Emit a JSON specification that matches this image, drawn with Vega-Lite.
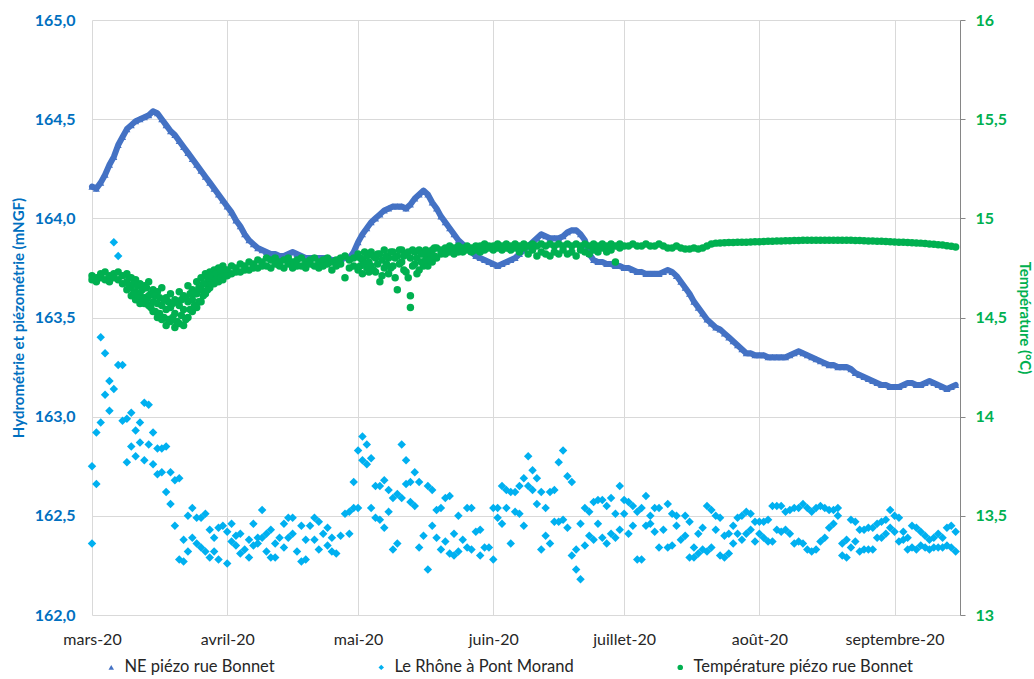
{
"$schema": "https://vega.github.io/schema/vega-lite/v6.json",
"width": 868,
"height": 595,
"autosize": "none",
"padding": {"left": 92, "top": 20, "right": 74, "bottom": 64},
"background": "white",
"config": {
  "font": "Lato",
  "view": {"stroke": null},
  "locale": {
    "number": {"decimal": ",", "thousands": " ", "grouping": [3], "currency": ["", " €"]},
    "time": {"dateTime": "%A %e %B %Y à %X", "date": "%d/%m/%Y", "time": "%H:%M:%S", "periods": ["AM", "PM"],
      "days": ["dimanche","lundi","mardi","mercredi","jeudi","vendredi","samedi"],
      "shortDays": ["dim.","lun.","mar.","mer.","jeu.","ven.","sam."],
      "months": ["janvier","février","mars","avril","mai","juin","juillet","août","septembre","octobre","novembre","décembre"],
      "shortMonths": ["janv.","févr.","mars","avr.","mai","juin","juil.","août","sept.","oct.","nov.","déc."]}
  }
},
"datasets": {
"piezo": [
{"d":"2020-03-01","v":164.16},{"d":"2020-03-02","v":164.15},{"d":"2020-03-03","v":164.18},{"d":"2020-03-04","v":164.22},{"d":"2020-03-05","v":164.27},{"d":"2020-03-06","v":164.31},{"d":"2020-03-07","v":164.37},{"d":"2020-03-08","v":164.41},{"d":"2020-03-09","v":164.45},{"d":"2020-03-10","v":164.47},
{"d":"2020-03-11","v":164.49},{"d":"2020-03-12","v":164.50},{"d":"2020-03-13","v":164.51},{"d":"2020-03-14","v":164.52},{"d":"2020-03-15","v":164.54},{"d":"2020-03-16","v":164.53},{"d":"2020-03-17","v":164.50},{"d":"2020-03-18","v":164.47},{"d":"2020-03-19","v":164.44},{"d":"2020-03-20","v":164.42},
{"d":"2020-03-21","v":164.39},{"d":"2020-03-22","v":164.36},{"d":"2020-03-23","v":164.33},{"d":"2020-03-24","v":164.30},{"d":"2020-03-25","v":164.27},{"d":"2020-03-26","v":164.24},{"d":"2020-03-27","v":164.21},{"d":"2020-03-28","v":164.18},{"d":"2020-03-29","v":164.15},{"d":"2020-03-30","v":164.12},{"d":"2020-03-31","v":164.09},
{"d":"2020-04-01","v":164.06},{"d":"2020-04-02","v":164.03},{"d":"2020-04-03","v":163.99},{"d":"2020-04-04","v":163.96},{"d":"2020-04-05","v":163.92},{"d":"2020-04-06","v":163.89},{"d":"2020-04-07","v":163.87},{"d":"2020-04-08","v":163.85},{"d":"2020-04-09","v":163.84},{"d":"2020-04-10","v":163.83},
{"d":"2020-04-11","v":163.82},{"d":"2020-04-12","v":163.82},{"d":"2020-04-13","v":163.81},{"d":"2020-04-14","v":163.81},{"d":"2020-04-15","v":163.82},{"d":"2020-04-16","v":163.83},{"d":"2020-04-17","v":163.82},{"d":"2020-04-18","v":163.81},{"d":"2020-04-19","v":163.80},{"d":"2020-04-20","v":163.80},
{"d":"2020-04-21","v":163.80},{"d":"2020-04-22","v":163.80},{"d":"2020-04-23","v":163.80},{"d":"2020-04-24","v":163.80},{"d":"2020-04-25","v":163.79},{"d":"2020-04-26","v":163.79},{"d":"2020-04-27","v":163.79},{"d":"2020-04-28","v":163.80},{"d":"2020-04-29","v":163.80},{"d":"2020-04-30","v":163.83},
{"d":"2020-05-01","v":163.88},{"d":"2020-05-02","v":163.92},{"d":"2020-05-03","v":163.95},{"d":"2020-05-04","v":163.98},{"d":"2020-05-05","v":164.00},{"d":"2020-05-06","v":164.02},{"d":"2020-05-07","v":164.04},{"d":"2020-05-08","v":164.05},{"d":"2020-05-09","v":164.06},{"d":"2020-05-10","v":164.06},
{"d":"2020-05-11","v":164.06},{"d":"2020-05-12","v":164.05},{"d":"2020-05-13","v":164.07},{"d":"2020-05-14","v":164.10},{"d":"2020-05-15","v":164.12},{"d":"2020-05-16","v":164.14},{"d":"2020-05-17","v":164.12},{"d":"2020-05-18","v":164.08},{"d":"2020-05-19","v":164.05},{"d":"2020-05-20","v":164.01},
{"d":"2020-05-21","v":163.98},{"d":"2020-05-22","v":163.95},{"d":"2020-05-23","v":163.92},{"d":"2020-05-24","v":163.89},{"d":"2020-05-25","v":163.87},{"d":"2020-05-26","v":163.85},{"d":"2020-05-27","v":163.83},{"d":"2020-05-28","v":163.81},{"d":"2020-05-29","v":163.80},{"d":"2020-05-30","v":163.79},{"d":"2020-05-31","v":163.78},
{"d":"2020-06-01","v":163.77},{"d":"2020-06-02","v":163.76},{"d":"2020-06-03","v":163.77},{"d":"2020-06-04","v":163.78},{"d":"2020-06-05","v":163.79},{"d":"2020-06-06","v":163.80},{"d":"2020-06-07","v":163.82},{"d":"2020-06-08","v":163.84},{"d":"2020-06-09","v":163.86},{"d":"2020-06-10","v":163.88},
{"d":"2020-06-11","v":163.90},{"d":"2020-06-12","v":163.92},{"d":"2020-06-13","v":163.91},{"d":"2020-06-14","v":163.90},{"d":"2020-06-15","v":163.90},{"d":"2020-06-16","v":163.90},{"d":"2020-06-17","v":163.91},{"d":"2020-06-18","v":163.93},{"d":"2020-06-19","v":163.94},{"d":"2020-06-20","v":163.94},
{"d":"2020-06-21","v":163.92},{"d":"2020-06-22","v":163.89},{"d":"2020-06-23","v":163.82},{"d":"2020-06-24","v":163.79},{"d":"2020-06-25","v":163.78},{"d":"2020-06-26","v":163.78},{"d":"2020-06-27","v":163.77},{"d":"2020-06-28","v":163.77},{"d":"2020-06-29","v":163.76},{"d":"2020-06-30","v":163.76},
{"d":"2020-07-01","v":163.75},{"d":"2020-07-02","v":163.75},{"d":"2020-07-03","v":163.74},{"d":"2020-07-04","v":163.73},{"d":"2020-07-05","v":163.73},{"d":"2020-07-06","v":163.72},{"d":"2020-07-07","v":163.72},{"d":"2020-07-08","v":163.72},{"d":"2020-07-09","v":163.72},{"d":"2020-07-10","v":163.73},
{"d":"2020-07-11","v":163.74},{"d":"2020-07-12","v":163.73},{"d":"2020-07-13","v":163.71},{"d":"2020-07-14","v":163.68},{"d":"2020-07-15","v":163.65},{"d":"2020-07-16","v":163.62},{"d":"2020-07-17","v":163.58},{"d":"2020-07-18","v":163.55},{"d":"2020-07-19","v":163.52},{"d":"2020-07-20","v":163.49},
{"d":"2020-07-21","v":163.47},{"d":"2020-07-22","v":163.45},{"d":"2020-07-23","v":163.44},{"d":"2020-07-24","v":163.42},{"d":"2020-07-25","v":163.40},{"d":"2020-07-26","v":163.38},{"d":"2020-07-27","v":163.36},{"d":"2020-07-28","v":163.34},{"d":"2020-07-29","v":163.32},{"d":"2020-07-30","v":163.32},{"d":"2020-07-31","v":163.31},
{"d":"2020-08-01","v":163.31},{"d":"2020-08-02","v":163.31},{"d":"2020-08-03","v":163.30},{"d":"2020-08-04","v":163.30},{"d":"2020-08-05","v":163.30},{"d":"2020-08-06","v":163.30},{"d":"2020-08-07","v":163.30},{"d":"2020-08-08","v":163.31},{"d":"2020-08-09","v":163.32},{"d":"2020-08-10","v":163.33},
{"d":"2020-08-11","v":163.32},{"d":"2020-08-12","v":163.31},{"d":"2020-08-13","v":163.30},{"d":"2020-08-14","v":163.29},{"d":"2020-08-15","v":163.28},{"d":"2020-08-16","v":163.27},{"d":"2020-08-17","v":163.26},{"d":"2020-08-18","v":163.26},{"d":"2020-08-19","v":163.25},{"d":"2020-08-20","v":163.25},
{"d":"2020-08-21","v":163.25},{"d":"2020-08-22","v":163.24},{"d":"2020-08-23","v":163.22},{"d":"2020-08-24","v":163.21},{"d":"2020-08-25","v":163.20},{"d":"2020-08-26","v":163.19},{"d":"2020-08-27","v":163.18},{"d":"2020-08-28","v":163.17},{"d":"2020-08-29","v":163.16},{"d":"2020-08-30","v":163.16},{"d":"2020-08-31","v":163.15},
{"d":"2020-09-01","v":163.15},{"d":"2020-09-02","v":163.15},{"d":"2020-09-03","v":163.16},{"d":"2020-09-04","v":163.17},{"d":"2020-09-05","v":163.17},{"d":"2020-09-06","v":163.16},{"d":"2020-09-07","v":163.16},{"d":"2020-09-08","v":163.17},{"d":"2020-09-09","v":163.18},{"d":"2020-09-10","v":163.17},
{"d":"2020-09-11","v":163.16},{"d":"2020-09-12","v":163.15},{"d":"2020-09-13","v":163.14},{"d":"2020-09-14","v":163.15},{"d":"2020-09-15","v":163.16}
],
"rhone": [
{"d":"2020-03-01","v":162.75},{"d":"2020-03-01","v":162.36},{"d":"2020-03-02","v":162.66},{"d":"2020-03-02","v":162.92},{"d":"2020-03-03","v":162.97},{"d":"2020-03-03","v":163.40},
{"d":"2020-03-04","v":163.11},{"d":"2020-03-04","v":163.32},{"d":"2020-03-05","v":163.03},{"d":"2020-03-05","v":163.18},{"d":"2020-03-06","v":163.14},{"d":"2020-03-06","v":163.88},
{"d":"2020-03-07","v":163.26},{"d":"2020-03-07","v":163.81},{"d":"2020-03-08","v":163.26},{"d":"2020-03-08","v":162.98},{"d":"2020-03-09","v":162.77},{"d":"2020-03-09","v":162.99},
{"d":"2020-03-10","v":162.85},{"d":"2020-03-10","v":163.02},{"d":"2020-03-11","v":162.80},{"d":"2020-03-11","v":162.93},{"d":"2020-03-12","v":162.97},{"d":"2020-03-12","v":162.87},
{"d":"2020-03-13","v":162.78},{"d":"2020-03-13","v":163.07},{"d":"2020-03-14","v":162.86},{"d":"2020-03-14","v":163.06},{"d":"2020-03-15","v":162.92},{"d":"2020-03-15","v":162.76},
{"d":"2020-03-16","v":162.84},{"d":"2020-03-16","v":162.71},{"d":"2020-03-17","v":162.84},{"d":"2020-03-17","v":162.72},{"d":"2020-03-18","v":162.85},{"d":"2020-03-18","v":162.62},
{"d":"2020-03-19","v":162.72},{"d":"2020-03-19","v":162.56},{"d":"2020-03-20","v":162.45},{"d":"2020-03-20","v":162.68},{"d":"2020-03-21","v":162.69},{"d":"2020-03-21","v":162.28},
{"d":"2020-03-22","v":162.38},{"d":"2020-03-22","v":162.27},{"d":"2020-03-23","v":162.50},{"d":"2020-03-23","v":162.32},{"d":"2020-03-24","v":162.54},{"d":"2020-03-24","v":162.39},
{"d":"2020-03-25","v":162.36},{"d":"2020-03-25","v":162.49},{"d":"2020-03-26","v":162.34},{"d":"2020-03-26","v":162.49},{"d":"2020-03-27","v":162.51},{"d":"2020-03-27","v":162.32},
{"d":"2020-03-28","v":162.43},{"d":"2020-03-28","v":162.29},{"d":"2020-03-29","v":162.39},{"d":"2020-03-29","v":162.32},{"d":"2020-03-30","v":162.44},{"d":"2020-03-30","v":162.28},
{"d":"2020-03-31","v":162.45},
{"d":"2020-04-01","v":162.26},{"d":"2020-04-01","v":162.42},{"d":"2020-04-02","v":162.46},{"d":"2020-04-02","v":162.37},{"d":"2020-04-03","v":162.35},{"d":"2020-04-03","v":162.40},
{"d":"2020-04-04","v":162.41},{"d":"2020-04-04","v":162.31},{"d":"2020-04-05","v":162.33},{"d":"2020-04-06","v":162.29},{"d":"2020-04-06","v":162.38},
{"d":"2020-04-07","v":162.46},{"d":"2020-04-07","v":162.35},{"d":"2020-04-08","v":162.36},{"d":"2020-04-08","v":162.39},{"d":"2020-04-09","v":162.53},{"d":"2020-04-09","v":162.39},
{"d":"2020-04-10","v":162.41},{"d":"2020-04-10","v":162.32},{"d":"2020-04-11","v":162.43},{"d":"2020-04-11","v":162.29},{"d":"2020-04-12","v":162.36},{"d":"2020-04-12","v":162.29},
{"d":"2020-04-13","v":162.39},{"d":"2020-04-14","v":162.46},{"d":"2020-04-14","v":162.34},{"d":"2020-04-15","v":162.49},{"d":"2020-04-15","v":162.39},
{"d":"2020-04-16","v":162.49},{"d":"2020-04-16","v":162.41},{"d":"2020-04-17","v":162.32},{"d":"2020-04-18","v":162.27},{"d":"2020-04-18","v":162.45},
{"d":"2020-04-19","v":162.28},{"d":"2020-04-19","v":162.38},{"d":"2020-04-20","v":162.45},{"d":"2020-04-21","v":162.49},{"d":"2020-04-21","v":162.38},
{"d":"2020-04-22","v":162.47},{"d":"2020-04-22","v":162.33},{"d":"2020-04-23","v":162.41},{"d":"2020-04-24","v":162.35},{"d":"2020-04-24","v":162.44},
{"d":"2020-04-25","v":162.39},{"d":"2020-04-25","v":162.32},{"d":"2020-04-26","v":162.31},{"d":"2020-04-27","v":162.40},{"d":"2020-04-28","v":162.51},
{"d":"2020-04-29","v":162.41},{"d":"2020-04-29","v":162.52},{"d":"2020-04-30","v":162.67},{"d":"2020-04-30","v":162.54},
{"d":"2020-05-01","v":162.83},{"d":"2020-05-01","v":162.54},{"d":"2020-05-02","v":162.90},{"d":"2020-05-02","v":162.78},{"d":"2020-05-03","v":162.86},{"d":"2020-05-03","v":162.76},
{"d":"2020-05-04","v":162.79},{"d":"2020-05-04","v":162.54},{"d":"2020-05-05","v":162.65},{"d":"2020-05-05","v":162.49},{"d":"2020-05-06","v":162.65},{"d":"2020-05-06","v":162.48},
{"d":"2020-05-07","v":162.68},{"d":"2020-05-07","v":162.44},{"d":"2020-05-08","v":162.63},{"d":"2020-05-08","v":162.52},{"d":"2020-05-09","v":162.59},{"d":"2020-05-09","v":162.33},
{"d":"2020-05-10","v":162.61},{"d":"2020-05-10","v":162.36},{"d":"2020-05-11","v":162.86},{"d":"2020-05-11","v":162.59},{"d":"2020-05-12","v":162.78},{"d":"2020-05-12","v":162.66},
{"d":"2020-05-13","v":162.67},{"d":"2020-05-13","v":162.57},{"d":"2020-05-14","v":162.72},{"d":"2020-05-14","v":162.55},{"d":"2020-05-15","v":162.67},{"d":"2020-05-15","v":162.34},
{"d":"2020-05-16","v":162.40},{"d":"2020-05-17","v":162.23},{"d":"2020-05-17","v":162.65},{"d":"2020-05-18","v":162.63},{"d":"2020-05-18","v":162.45},
{"d":"2020-05-19","v":162.53},{"d":"2020-05-19","v":162.39},{"d":"2020-05-20","v":162.54},{"d":"2020-05-20","v":162.33},{"d":"2020-05-21","v":162.59},{"d":"2020-05-21","v":162.37},
{"d":"2020-05-22","v":162.60},{"d":"2020-05-22","v":162.31},{"d":"2020-05-23","v":162.41},{"d":"2020-05-23","v":162.30},{"d":"2020-05-24","v":162.50},{"d":"2020-05-24","v":162.32},
{"d":"2020-05-25","v":162.38},{"d":"2020-05-26","v":162.54},{"d":"2020-05-26","v":162.34},{"d":"2020-05-27","v":162.54},{"d":"2020-05-27","v":162.33},
{"d":"2020-05-28","v":162.42},{"d":"2020-05-29","v":162.43},{"d":"2020-05-29","v":162.30},{"d":"2020-05-30","v":162.34},{"d":"2020-05-31","v":162.34},
{"d":"2020-06-01","v":162.28},{"d":"2020-06-01","v":162.54},{"d":"2020-06-02","v":162.54},{"d":"2020-06-02","v":162.49},{"d":"2020-06-03","v":162.65},{"d":"2020-06-03","v":162.46},
{"d":"2020-06-04","v":162.63},{"d":"2020-06-04","v":162.54},{"d":"2020-06-05","v":162.62},{"d":"2020-06-05","v":162.36},{"d":"2020-06-06","v":162.62},{"d":"2020-06-06","v":162.52},
{"d":"2020-06-07","v":162.65},{"d":"2020-06-07","v":162.51},{"d":"2020-06-08","v":162.69},{"d":"2020-06-08","v":162.45},{"d":"2020-06-09","v":162.80},{"d":"2020-06-09","v":162.65},
{"d":"2020-06-10","v":162.73},{"d":"2020-06-10","v":162.63},{"d":"2020-06-11","v":162.69},{"d":"2020-06-11","v":162.56},{"d":"2020-06-12","v":162.62},{"d":"2020-06-12","v":162.33},
{"d":"2020-06-13","v":162.54},{"d":"2020-06-13","v":162.40},{"d":"2020-06-14","v":162.62},{"d":"2020-06-14","v":162.36},{"d":"2020-06-15","v":162.63},{"d":"2020-06-15","v":162.47},
{"d":"2020-06-16","v":162.77},{"d":"2020-06-16","v":162.47},{"d":"2020-06-17","v":162.83},{"d":"2020-06-17","v":162.48},{"d":"2020-06-18","v":162.70},{"d":"2020-06-18","v":162.44},
{"d":"2020-06-19","v":162.67},{"d":"2020-06-19","v":162.30},{"d":"2020-06-20","v":162.23},{"d":"2020-06-20","v":162.33},{"d":"2020-06-21","v":162.18},{"d":"2020-06-21","v":162.46},
{"d":"2020-06-22","v":162.54},{"d":"2020-06-22","v":162.35},{"d":"2020-06-23","v":162.52},{"d":"2020-06-23","v":162.40},{"d":"2020-06-24","v":162.57},{"d":"2020-06-24","v":162.38},
{"d":"2020-06-25","v":162.58},{"d":"2020-06-25","v":162.46},{"d":"2020-06-26","v":162.58},{"d":"2020-06-26","v":162.39},{"d":"2020-06-27","v":162.55},{"d":"2020-06-27","v":162.36},
{"d":"2020-06-28","v":162.59},{"d":"2020-06-28","v":162.41},{"d":"2020-06-29","v":162.51},{"d":"2020-06-29","v":162.39},{"d":"2020-06-30","v":162.65},{"d":"2020-06-30","v":162.43},
{"d":"2020-07-01","v":162.58},{"d":"2020-07-01","v":162.51},{"d":"2020-07-02","v":162.57},{"d":"2020-07-02","v":162.41},{"d":"2020-07-03","v":162.55},{"d":"2020-07-03","v":162.45},
{"d":"2020-07-04","v":162.28},{"d":"2020-07-04","v":162.52},{"d":"2020-07-05","v":162.28},{"d":"2020-07-05","v":162.54},{"d":"2020-07-06","v":162.60},{"d":"2020-07-06","v":162.45},
{"d":"2020-07-07","v":162.46},{"d":"2020-07-07","v":162.50},{"d":"2020-07-08","v":162.42},{"d":"2020-07-08","v":162.54},{"d":"2020-07-09","v":162.54},{"d":"2020-07-09","v":162.34},
{"d":"2020-07-10","v":162.43},{"d":"2020-07-11","v":162.56},{"d":"2020-07-11","v":162.34},{"d":"2020-07-12","v":162.51},{"d":"2020-07-12","v":162.35},
{"d":"2020-07-13","v":162.50},{"d":"2020-07-13","v":162.45},{"d":"2020-07-14","v":162.38},{"d":"2020-07-15","v":162.50},{"d":"2020-07-15","v":162.40},
{"d":"2020-07-16","v":162.47},{"d":"2020-07-16","v":162.29},{"d":"2020-07-17","v":162.34},{"d":"2020-07-17","v":162.29},{"d":"2020-07-18","v":162.41},{"d":"2020-07-18","v":162.31},
{"d":"2020-07-19","v":162.44},{"d":"2020-07-19","v":162.33},{"d":"2020-07-20","v":162.55},{"d":"2020-07-20","v":162.32},{"d":"2020-07-21","v":162.53},{"d":"2020-07-21","v":162.34},
{"d":"2020-07-22","v":162.43},{"d":"2020-07-22","v":162.50},{"d":"2020-07-23","v":162.30},{"d":"2020-07-23","v":162.49},{"d":"2020-07-24","v":162.29},{"d":"2020-07-24","v":162.40},
{"d":"2020-07-25","v":162.31},{"d":"2020-07-25","v":162.41},{"d":"2020-07-26","v":162.36},{"d":"2020-07-26","v":162.45},{"d":"2020-07-27","v":162.49},{"d":"2020-07-27","v":162.41},
{"d":"2020-07-28","v":162.50},{"d":"2020-07-28","v":162.38},{"d":"2020-07-29","v":162.52},{"d":"2020-07-29","v":162.41},{"d":"2020-07-30","v":162.51},{"d":"2020-07-30","v":162.43},
{"d":"2020-07-31","v":162.47},{"d":"2020-07-31","v":162.37},
{"d":"2020-08-01","v":162.47},{"d":"2020-08-01","v":162.41},{"d":"2020-08-02","v":162.47},{"d":"2020-08-02","v":162.39},{"d":"2020-08-03","v":162.48},{"d":"2020-08-03","v":162.37},
{"d":"2020-08-04","v":162.55},{"d":"2020-08-04","v":162.37},{"d":"2020-08-05","v":162.55},{"d":"2020-08-05","v":162.43},{"d":"2020-08-06","v":162.55},{"d":"2020-08-06","v":162.42},
{"d":"2020-08-07","v":162.52},{"d":"2020-08-07","v":162.43},{"d":"2020-08-08","v":162.53},{"d":"2020-08-08","v":162.41},{"d":"2020-08-09","v":162.54},{"d":"2020-08-09","v":162.36},
{"d":"2020-08-10","v":162.54},{"d":"2020-08-10","v":162.37},{"d":"2020-08-11","v":162.56},{"d":"2020-08-11","v":162.36},{"d":"2020-08-12","v":162.54},{"d":"2020-08-12","v":162.33},
{"d":"2020-08-13","v":162.52},{"d":"2020-08-13","v":162.32},{"d":"2020-08-14","v":162.33},{"d":"2020-08-14","v":162.54},{"d":"2020-08-15","v":162.55},{"d":"2020-08-15","v":162.37},
{"d":"2020-08-16","v":162.39},{"d":"2020-08-16","v":162.54},{"d":"2020-08-17","v":162.44},{"d":"2020-08-17","v":162.53},{"d":"2020-08-18","v":162.53},{"d":"2020-08-18","v":162.46},
{"d":"2020-08-19","v":162.54},{"d":"2020-08-19","v":162.50},{"d":"2020-08-20","v":162.36},{"d":"2020-08-20","v":162.30},{"d":"2020-08-21","v":162.38},{"d":"2020-08-21","v":162.29},
{"d":"2020-08-22","v":162.48},{"d":"2020-08-22","v":162.34},{"d":"2020-08-23","v":162.47},{"d":"2020-08-23","v":162.37},{"d":"2020-08-24","v":162.43},{"d":"2020-08-24","v":162.32},
{"d":"2020-08-25","v":162.43},{"d":"2020-08-25","v":162.33},{"d":"2020-08-26","v":162.44},{"d":"2020-08-26","v":162.33},{"d":"2020-08-27","v":162.33},{"d":"2020-08-27","v":162.44},
{"d":"2020-08-28","v":162.39},{"d":"2020-08-28","v":162.46},{"d":"2020-08-29","v":162.39},{"d":"2020-08-29","v":162.47},{"d":"2020-08-30","v":162.48},{"d":"2020-08-30","v":162.41},
{"d":"2020-08-31","v":162.53},{"d":"2020-08-31","v":162.44},
{"d":"2020-09-01","v":162.50},{"d":"2020-09-01","v":162.42},{"d":"2020-09-02","v":162.49},{"d":"2020-09-02","v":162.37},{"d":"2020-09-03","v":162.42},{"d":"2020-09-03","v":162.38},
{"d":"2020-09-04","v":162.33},{"d":"2020-09-04","v":162.39},{"d":"2020-09-05","v":162.34},{"d":"2020-09-05","v":162.45},{"d":"2020-09-06","v":162.33},{"d":"2020-09-06","v":162.44},
{"d":"2020-09-07","v":162.35},{"d":"2020-09-07","v":162.42},{"d":"2020-09-08","v":162.40},{"d":"2020-09-08","v":162.34},{"d":"2020-09-09","v":162.38},{"d":"2020-09-09","v":162.33},
{"d":"2020-09-10","v":162.34},{"d":"2020-09-10","v":162.39},{"d":"2020-09-11","v":162.34},{"d":"2020-09-11","v":162.41},{"d":"2020-09-12","v":162.39},{"d":"2020-09-12","v":162.34},
{"d":"2020-09-13","v":162.44},{"d":"2020-09-13","v":162.35},{"d":"2020-09-14","v":162.45},{"d":"2020-09-14","v":162.34},{"d":"2020-09-15","v":162.42},{"d":"2020-09-15","v":162.32}
],
"temp": [
{"d":"2020-03-01","v":14.69},{"d":"2020-03-01","v":14.71},{"d":"2020-03-02","v":14.68},{"d":"2020-03-02","v":14.70},{"d":"2020-03-03","v":14.70},{"d":"2020-03-03","v":14.72},
{"d":"2020-03-04","v":14.69},{"d":"2020-03-04","v":14.73},{"d":"2020-03-05","v":14.71},{"d":"2020-03-05","v":14.68},{"d":"2020-03-06","v":14.72},{"d":"2020-03-06","v":14.70},
{"d":"2020-03-07","v":14.73},{"d":"2020-03-07","v":14.69},{"d":"2020-03-08","v":14.71},{"d":"2020-03-08","v":14.67},
{"d":"2020-03-09","v":14.72},{"d":"2020-03-09","v":14.68},{"d":"2020-03-09","v":14.64},{"d":"2020-03-10","v":14.70},{"d":"2020-03-10","v":14.65},{"d":"2020-03-10","v":14.61},
{"d":"2020-03-11","v":14.69},{"d":"2020-03-11","v":14.63},{"d":"2020-03-11","v":14.59},{"d":"2020-03-12","v":14.67},{"d":"2020-03-12","v":14.62},{"d":"2020-03-12","v":14.57},
{"d":"2020-03-13","v":14.66},{"d":"2020-03-13","v":14.60},{"d":"2020-03-13","v":14.57},{"d":"2020-03-14","v":14.68},{"d":"2020-03-14","v":14.61},{"d":"2020-03-14","v":14.56},
{"d":"2020-03-15","v":14.64},{"d":"2020-03-15","v":14.58},{"d":"2020-03-15","v":14.53},{"d":"2020-03-16","v":14.63},{"d":"2020-03-16","v":14.57},{"d":"2020-03-16","v":14.50},
{"d":"2020-03-17","v":14.65},{"d":"2020-03-17","v":14.56},{"d":"2020-03-17","v":14.49},{"d":"2020-03-18","v":14.60},{"d":"2020-03-18","v":14.54},{"d":"2020-03-18","v":14.46},
{"d":"2020-03-19","v":14.62},{"d":"2020-03-19","v":14.55},{"d":"2020-03-19","v":14.48},{"d":"2020-03-20","v":14.59},{"d":"2020-03-20","v":14.52},{"d":"2020-03-20","v":14.45},
{"d":"2020-03-21","v":14.63},{"d":"2020-03-21","v":14.56},{"d":"2020-03-21","v":14.47},{"d":"2020-03-22","v":14.61},{"d":"2020-03-22","v":14.54},{"d":"2020-03-22","v":14.46},
{"d":"2020-03-23","v":14.66},{"d":"2020-03-23","v":14.58},{"d":"2020-03-23","v":14.50},{"d":"2020-03-24","v":14.64},{"d":"2020-03-24","v":14.59},{"d":"2020-03-24","v":14.53},
{"d":"2020-03-25","v":14.68},{"d":"2020-03-25","v":14.62},{"d":"2020-03-25","v":14.55},{"d":"2020-03-26","v":14.70},{"d":"2020-03-26","v":14.64},{"d":"2020-03-26","v":14.58},
{"d":"2020-03-27","v":14.72},{"d":"2020-03-27","v":14.67},{"d":"2020-03-27","v":14.62},{"d":"2020-03-28","v":14.73},{"d":"2020-03-28","v":14.69},{"d":"2020-03-28","v":14.65},
{"d":"2020-03-29","v":14.74},{"d":"2020-03-29","v":14.70},{"d":"2020-03-29","v":14.67},{"d":"2020-03-30","v":14.75},{"d":"2020-03-30","v":14.72},{"d":"2020-03-30","v":14.68},
{"d":"2020-03-31","v":14.76},{"d":"2020-03-31","v":14.72},{"d":"2020-03-31","v":14.69},
{"d":"2020-03-09T12:00:00Z","v":14.70},{"d":"2020-03-09T12:00:00Z","v":14.66},{"d":"2020-03-10T12:00:00Z","v":14.67},{"d":"2020-03-10T12:00:00Z","v":14.62},
{"d":"2020-03-11T12:00:00Z","v":14.66},{"d":"2020-03-11T12:00:00Z","v":14.60},{"d":"2020-03-12T12:00:00Z","v":14.64},{"d":"2020-03-12T12:00:00Z","v":14.58},
{"d":"2020-03-13T12:00:00Z","v":14.65},{"d":"2020-03-13T12:00:00Z","v":14.59},{"d":"2020-03-14T12:00:00Z","v":14.62},{"d":"2020-03-14T12:00:00Z","v":14.55},
{"d":"2020-03-15T12:00:00Z","v":14.61},{"d":"2020-03-15T12:00:00Z","v":14.53},{"d":"2020-03-16T12:00:00Z","v":14.60},{"d":"2020-03-16T12:00:00Z","v":14.52},
{"d":"2020-03-17T12:00:00Z","v":14.59},{"d":"2020-03-17T12:00:00Z","v":14.50},{"d":"2020-03-18T12:00:00Z","v":14.58},{"d":"2020-03-18T12:00:00Z","v":14.49},
{"d":"2020-03-19T12:00:00Z","v":14.57},{"d":"2020-03-19T12:00:00Z","v":14.50},{"d":"2020-03-20T12:00:00Z","v":14.58},{"d":"2020-03-20T12:00:00Z","v":14.48},
{"d":"2020-03-21T12:00:00Z","v":14.59},{"d":"2020-03-21T12:00:00Z","v":14.51},{"d":"2020-03-22T12:00:00Z","v":14.60},{"d":"2020-03-22T12:00:00Z","v":14.49},
{"d":"2020-03-23T12:00:00Z","v":14.62},{"d":"2020-03-23T12:00:00Z","v":14.54},{"d":"2020-03-24T12:00:00Z","v":14.62},{"d":"2020-03-24T12:00:00Z","v":14.56},
{"d":"2020-03-25T12:00:00Z","v":14.65},{"d":"2020-03-25T12:00:00Z","v":14.58},{"d":"2020-03-26T12:00:00Z","v":14.67},{"d":"2020-03-26T12:00:00Z","v":14.61},
{"d":"2020-03-27T12:00:00Z","v":14.70},{"d":"2020-03-27T12:00:00Z","v":14.64},{"d":"2020-03-28T12:00:00Z","v":14.71},{"d":"2020-03-28T12:00:00Z","v":14.67},
{"d":"2020-03-29T12:00:00Z","v":14.72},{"d":"2020-03-29T12:00:00Z","v":14.69},{"d":"2020-03-30T12:00:00Z","v":14.74},{"d":"2020-03-30T12:00:00Z","v":14.70},
{"d":"2020-03-31T12:00:00Z","v":14.74},{"d":"2020-03-31T12:00:00Z","v":14.71},
{"d":"2020-04-01","v":14.74},{"d":"2020-04-01","v":14.71},{"d":"2020-04-02","v":14.76},{"d":"2020-04-02","v":14.72},{"d":"2020-04-03","v":14.75},{"d":"2020-04-03","v":14.73},
{"d":"2020-04-04","v":14.77},{"d":"2020-04-04","v":14.73},{"d":"2020-04-05","v":14.76},{"d":"2020-04-05","v":14.74},{"d":"2020-04-06","v":14.78},{"d":"2020-04-06","v":14.74},
{"d":"2020-04-07","v":14.77},{"d":"2020-04-07","v":14.75},{"d":"2020-04-08","v":14.79},{"d":"2020-04-08","v":14.75},{"d":"2020-04-09","v":14.78},{"d":"2020-04-09","v":14.76},
{"d":"2020-04-10","v":14.80},{"d":"2020-04-10","v":14.76},{"d":"2020-04-11","v":14.79},{"d":"2020-04-11","v":14.75},{"d":"2020-04-12","v":14.80},{"d":"2020-04-12","v":14.77},
{"d":"2020-04-13","v":14.78},{"d":"2020-04-13","v":14.76},{"d":"2020-04-14","v":14.79},{"d":"2020-04-14","v":14.75},{"d":"2020-04-15","v":14.80},{"d":"2020-04-15","v":14.77},
{"d":"2020-04-16","v":14.78},{"d":"2020-04-16","v":14.75},{"d":"2020-04-17","v":14.79},{"d":"2020-04-17","v":14.76},{"d":"2020-04-18","v":14.80},{"d":"2020-04-18","v":14.76},
{"d":"2020-04-19","v":14.78},{"d":"2020-04-19","v":14.75},{"d":"2020-04-20","v":14.79},{"d":"2020-04-20","v":14.77},{"d":"2020-04-21","v":14.80},{"d":"2020-04-21","v":14.76},
{"d":"2020-04-22","v":14.78},{"d":"2020-04-22","v":14.75},{"d":"2020-04-23","v":14.79},{"d":"2020-04-23","v":14.76},{"d":"2020-04-24","v":14.80},{"d":"2020-04-24","v":14.77},
{"d":"2020-04-25","v":14.78},{"d":"2020-04-25","v":14.74},{"d":"2020-04-26","v":14.79},{"d":"2020-04-26","v":14.76},{"d":"2020-04-27","v":14.80},{"d":"2020-04-27","v":14.77},
{"d":"2020-04-28","v":14.81},{"d":"2020-04-28","v":14.70},{"d":"2020-04-29","v":14.79},{"d":"2020-04-29","v":14.75},{"d":"2020-04-30","v":14.80},{"d":"2020-04-30","v":14.76},
{"d":"2020-05-01","v":14.82},{"d":"2020-05-01","v":14.74},{"d":"2020-05-02","v":14.79},{"d":"2020-05-02","v":14.72},{"d":"2020-05-03","v":14.81},{"d":"2020-05-03","v":14.75},
{"d":"2020-05-04","v":14.83},{"d":"2020-05-04","v":14.76},{"d":"2020-05-05","v":14.80},{"d":"2020-05-05","v":14.73},{"d":"2020-05-06","v":14.82},{"d":"2020-05-06","v":14.68},
{"d":"2020-05-07","v":14.84},{"d":"2020-05-07","v":14.75},{"d":"2020-05-08","v":14.80},{"d":"2020-05-08","v":14.72},{"d":"2020-05-09","v":14.83},{"d":"2020-05-09","v":14.76},
{"d":"2020-05-10","v":14.81},{"d":"2020-05-10","v":14.64},{"d":"2020-05-11","v":14.84},{"d":"2020-05-11","v":14.78},{"d":"2020-05-12","v":14.82},{"d":"2020-05-12","v":14.73},
{"d":"2020-05-13","v":14.80},{"d":"2020-05-13","v":14.61},{"d":"2020-05-13","v":14.55},{"d":"2020-05-14","v":14.83},{"d":"2020-05-14","v":14.77},
{"d":"2020-05-15","v":14.84},{"d":"2020-05-15","v":14.74},{"d":"2020-05-16","v":14.82},{"d":"2020-05-16","v":14.76},{"d":"2020-05-17","v":14.81},{"d":"2020-05-17","v":14.76},
{"d":"2020-05-18","v":14.84},{"d":"2020-05-18","v":14.78},{"d":"2020-05-19","v":14.85},{"d":"2020-05-19","v":14.80},{"d":"2020-05-20","v":14.84},{"d":"2020-05-20","v":14.82},
{"d":"2020-05-01T12:00:00Z","v":14.80},{"d":"2020-05-01T12:00:00Z","v":14.76},{"d":"2020-05-02T12:00:00Z","v":14.83},{"d":"2020-05-02T12:00:00Z","v":14.77},
{"d":"2020-05-03T12:00:00Z","v":14.78},{"d":"2020-05-03T12:00:00Z","v":14.73},{"d":"2020-05-04T12:00:00Z","v":14.81},{"d":"2020-05-04T12:00:00Z","v":14.74},
{"d":"2020-05-05T12:00:00Z","v":14.82},{"d":"2020-05-05T12:00:00Z","v":14.77},{"d":"2020-05-06T12:00:00Z","v":14.79},{"d":"2020-05-06T12:00:00Z","v":14.71},
{"d":"2020-05-07T12:00:00Z","v":14.81},{"d":"2020-05-07T12:00:00Z","v":14.77},{"d":"2020-05-08T12:00:00Z","v":14.83},{"d":"2020-05-08T12:00:00Z","v":14.75},
{"d":"2020-05-09T12:00:00Z","v":14.80},{"d":"2020-05-09T12:00:00Z","v":14.70},{"d":"2020-05-10T12:00:00Z","v":14.84},{"d":"2020-05-10T12:00:00Z","v":14.77},
{"d":"2020-05-11T12:00:00Z","v":14.81},{"d":"2020-05-11T12:00:00Z","v":14.74},{"d":"2020-05-12T12:00:00Z","v":14.83},{"d":"2020-05-12T12:00:00Z","v":14.70},
{"d":"2020-05-13T12:00:00Z","v":14.84},{"d":"2020-05-13T12:00:00Z","v":14.76},{"d":"2020-05-14T12:00:00Z","v":14.80},{"d":"2020-05-14T12:00:00Z","v":14.72},
{"d":"2020-05-15T12:00:00Z","v":14.82},{"d":"2020-05-15T12:00:00Z","v":14.78},{"d":"2020-05-16T12:00:00Z","v":14.84},{"d":"2020-05-16T12:00:00Z","v":14.79},
{"d":"2020-05-17T12:00:00Z","v":14.83},{"d":"2020-05-17T12:00:00Z","v":14.79},{"d":"2020-05-18T12:00:00Z","v":14.85},{"d":"2020-05-18T12:00:00Z","v":14.81},
{"d":"2020-05-21","v":14.85},{"d":"2020-05-21","v":14.82},{"d":"2020-05-22","v":14.86},{"d":"2020-05-22","v":14.83},{"d":"2020-05-23","v":14.85},{"d":"2020-05-23","v":14.82},
{"d":"2020-05-24","v":14.86},{"d":"2020-05-24","v":14.83},{"d":"2020-05-25","v":14.85},{"d":"2020-05-25","v":14.83},{"d":"2020-05-26","v":14.86},{"d":"2020-05-26","v":14.84},
{"d":"2020-05-27","v":14.85},{"d":"2020-05-27","v":14.83},{"d":"2020-05-28","v":14.86},{"d":"2020-05-28","v":14.84},{"d":"2020-05-29","v":14.86},{"d":"2020-05-29","v":14.83},
{"d":"2020-05-30","v":14.87},{"d":"2020-05-30","v":14.84},{"d":"2020-05-31","v":14.86},{"d":"2020-05-31","v":14.85},
{"d":"2020-06-01","v":14.86},{"d":"2020-06-01","v":14.84},{"d":"2020-06-02","v":14.87},{"d":"2020-06-02","v":14.85},{"d":"2020-06-03","v":14.86},{"d":"2020-06-03","v":14.84},
{"d":"2020-06-04","v":14.87},{"d":"2020-06-04","v":14.85},{"d":"2020-06-05","v":14.86},{"d":"2020-06-05","v":14.84},{"d":"2020-06-06","v":14.87},{"d":"2020-06-06","v":14.85},
{"d":"2020-06-07","v":14.86},{"d":"2020-06-07","v":14.83},{"d":"2020-06-08","v":14.87},{"d":"2020-06-08","v":14.85},{"d":"2020-06-09","v":14.86},{"d":"2020-06-09","v":14.82},
{"d":"2020-06-10","v":14.87},{"d":"2020-06-10","v":14.84},{"d":"2020-06-11","v":14.86},{"d":"2020-06-11","v":14.81},{"d":"2020-06-12","v":14.87},{"d":"2020-06-12","v":14.83},
{"d":"2020-06-13","v":14.86},{"d":"2020-06-13","v":14.82},{"d":"2020-06-14","v":14.87},{"d":"2020-06-14","v":14.81},{"d":"2020-06-15","v":14.86},{"d":"2020-06-15","v":14.83},
{"d":"2020-06-16","v":14.87},{"d":"2020-06-16","v":14.82},{"d":"2020-06-17","v":14.86},{"d":"2020-06-17","v":14.84},{"d":"2020-06-18","v":14.87},{"d":"2020-06-18","v":14.82},
{"d":"2020-06-19","v":14.86},{"d":"2020-06-19","v":14.83},{"d":"2020-06-20","v":14.87},{"d":"2020-06-20","v":14.81},{"d":"2020-06-21","v":14.86},{"d":"2020-06-21","v":14.84},
{"d":"2020-06-22","v":14.87},{"d":"2020-06-22","v":14.83},{"d":"2020-06-23","v":14.86},{"d":"2020-06-23","v":14.82},{"d":"2020-06-24","v":14.87},{"d":"2020-06-24","v":14.84},
{"d":"2020-06-25","v":14.86},{"d":"2020-06-25","v":14.83},{"d":"2020-06-26","v":14.87},{"d":"2020-06-26","v":14.85},{"d":"2020-06-27","v":14.86},{"d":"2020-06-27","v":14.83},
{"d":"2020-06-28","v":14.87},{"d":"2020-06-28","v":14.84},{"d":"2020-06-29","v":14.86},{"d":"2020-06-29","v":14.78},{"d":"2020-06-30","v":14.87},{"d":"2020-06-30","v":14.85},
{"d":"2020-07-01","v":14.86},{"d":"2020-07-02","v":14.86},{"d":"2020-07-03","v":14.87},{"d":"2020-07-04","v":14.86},{"d":"2020-07-05","v":14.86},{"d":"2020-07-06","v":14.87},
{"d":"2020-07-07","v":14.86},{"d":"2020-07-08","v":14.86},{"d":"2020-07-09","v":14.87},{"d":"2020-07-10","v":14.86},{"d":"2020-07-11","v":14.85},{"d":"2020-07-12","v":14.85},
{"d":"2020-07-13","v":14.86},{"d":"2020-07-14","v":14.85},{"d":"2020-07-15","v":14.845},{"d":"2020-07-16","v":14.845},{"d":"2020-07-17","v":14.85},{"d":"2020-07-18","v":14.845},
{"d":"2020-07-19","v":14.85},{"d":"2020-07-20","v":14.86},{"d":"2020-07-21","v":14.87},{"d":"2020-07-22","v":14.875},{"d":"2020-07-23","v":14.876},{"d":"2020-07-24","v":14.877},
{"d":"2020-07-25","v":14.878},{"d":"2020-07-26","v":14.878},{"d":"2020-07-27","v":14.879},{"d":"2020-07-28","v":14.88},{"d":"2020-07-29","v":14.88},{"d":"2020-07-30","v":14.881},{"d":"2020-07-31","v":14.882},
{"d":"2020-08-01","v":14.882},{"d":"2020-08-02","v":14.883},{"d":"2020-08-03","v":14.884},{"d":"2020-08-04","v":14.885},{"d":"2020-08-05","v":14.886},{"d":"2020-08-06","v":14.886},
{"d":"2020-08-07","v":14.887},{"d":"2020-08-08","v":14.887},{"d":"2020-08-09","v":14.888},{"d":"2020-08-10","v":14.888},{"d":"2020-08-11","v":14.889},{"d":"2020-08-12","v":14.889},
{"d":"2020-08-13","v":14.89},{"d":"2020-08-14","v":14.89},{"d":"2020-08-15","v":14.89},{"d":"2020-08-16","v":14.89},{"d":"2020-08-17","v":14.89},{"d":"2020-08-18","v":14.89},
{"d":"2020-08-19","v":14.89},{"d":"2020-08-20","v":14.89},{"d":"2020-08-21","v":14.889},{"d":"2020-08-22","v":14.889},{"d":"2020-08-23","v":14.888},{"d":"2020-08-24","v":14.888},
{"d":"2020-08-25","v":14.887},{"d":"2020-08-26","v":14.886},{"d":"2020-08-27","v":14.886},{"d":"2020-08-28","v":14.885},{"d":"2020-08-29","v":14.884},{"d":"2020-08-30","v":14.883},{"d":"2020-08-31","v":14.882},
{"d":"2020-09-01","v":14.881},{"d":"2020-09-02","v":14.88},{"d":"2020-09-03","v":14.879},{"d":"2020-09-04","v":14.878},{"d":"2020-09-05","v":14.877},{"d":"2020-09-06","v":14.876},
{"d":"2020-09-07","v":14.875},{"d":"2020-09-08","v":14.873},{"d":"2020-09-09","v":14.871},{"d":"2020-09-10","v":14.869},{"d":"2020-09-11","v":14.867},{"d":"2020-09-12","v":14.865},
{"d":"2020-09-13","v":14.862},{"d":"2020-09-14","v":14.859},{"d":"2020-09-15","v":14.856}
]
},
"layer": [
{
  "data": {"name": "piezo"},
  "mark": {"type": "line", "color": "#4472C4", "strokeWidth": 6, "strokeJoin": "round", "strokeCap": "round"},
  "encoding": {
    "x": {"field": "d", "type": "temporal",
      "scale": {"type": "utc", "domain": [{"year": 2020, "month": 3, "date": 1, "utc": true}, {"year": 2020, "month": 9, "date": 16, "utc": true}]},
      "axis": {"title": null, "format": "%B-%y", "labelAngle": 0,
        "values": [{"year": 2020, "month": 3, "date": 1, "utc": true}, {"year": 2020, "month": 4, "date": 1, "utc": true}, {"year": 2020, "month": 5, "date": 1, "utc": true}, {"year": 2020, "month": 6, "date": 1, "utc": true}, {"year": 2020, "month": 7, "date": 1, "utc": true}, {"year": 2020, "month": 8, "date": 1, "utc": true}, {"year": 2020, "month": 9, "date": 1, "utc": true}],
        "grid": true, "gridColor": "#d9d9d9", "gridWidth": 1, "domain": false, "ticks": false,
        "labelFontSize": 16, "labelColor": "#262626", "labelPadding": 16, "labelFlush": false, "labelOverlap": false}},
    "y": {"field": "v", "type": "quantitative",
      "scale": {"domain": [162, 165], "nice": false, "zero": false},
      "axis": {"title": "Hydrométrie et piézométrie (mNGF)", "values": [162, 162.5, 163, 163.5, 164, 164.5, 165], "format": ".1f",
        "grid": true, "gridColor": "#d9d9d9", "domain": false, "ticks": false,
        "labelFontSize": 16, "labelFontWeight": "bold", "labelColor": "#0070C0", "labelPadding": 17,
        "titleFontSize": 15, "titleFontWeight": "bold", "titleColor": "#0070C0", "titlePadding": 8}}
  }
},
{
  "data": {"name": "piezo"},
  "mark": {"type": "point", "filled": true, "size": 50, "opacity": 1},
  "encoding": {
    "x": {"field": "d", "type": "temporal"},
    "y": {"field": "v", "type": "quantitative", "scale": {"domain": [162, 165], "nice": false, "zero": false}, "axis": null},
    "color": {"datum": "NE piézo rue Bonnet", "type": "nominal",
      "scale": {"domain": ["NE piézo rue Bonnet", "Le Rhône à Pont Morand", "Température piézo rue Bonnet"], "range": ["#4472C4", "#00B0F0", "#00B050"]},
      "legend": {"title": null, "orient": "none", "direction": "horizontal", "legendX": 11, "legendY": 639,
        "labelFontSize": 16.5, "labelColor": "#262626", "labelLimit": 0, "symbolSize": 30, "columnPadding": 98, "labelOffset": 5}},
    "shape": {"datum": "NE piézo rue Bonnet", "type": "nominal",
      "scale": {"domain": ["NE piézo rue Bonnet", "Le Rhône à Pont Morand", "Température piézo rue Bonnet"], "range": ["triangle-up", "diamond", "circle"]}}
  }
},
{
  "data": {"name": "rhone"},
  "mark": {"type": "point", "filled": true, "size": 72, "opacity": 1},
  "encoding": {
    "x": {"field": "d", "type": "temporal"},
    "y": {"field": "v", "type": "quantitative", "scale": {"domain": [162, 165], "nice": false, "zero": false}, "axis": null},
    "color": {"datum": "Le Rhône à Pont Morand", "type": "nominal"},
    "shape": {"datum": "Le Rhône à Pont Morand", "type": "nominal"}
  }
},
{
  "data": {"name": "temp"},
  "mark": {"type": "point", "filled": true, "size": 56, "opacity": 1},
  "encoding": {
    "x": {"field": "d", "type": "temporal"},
    "y": {"field": "v", "type": "quantitative",
      "scale": {"domain": [13, 16], "nice": false, "zero": false},
      "axis": {"orient": "right", "title": "Température (°C)", "values": [13, 13.5, 14, 14.5, 15, 15.5, 16], "format": ".1~f",
        "grid": false, "domain": true, "domainColor": "#868686", "ticks": true, "tickSize": 5, "tickColor": "#868686",
        "labelFontSize": 16, "labelFontWeight": "bold", "labelColor": "#00B050", "labelPadding": 10,
        "titleFontSize": 15, "titleFontWeight": "bold", "titleColor": "#00B050", "titlePadding": 10}},
    "color": {"datum": "Température piézo rue Bonnet", "type": "nominal"},
    "shape": {"datum": "Température piézo rue Bonnet", "type": "nominal"}
  }
}
],
"resolve": {"scale": {"y": "independent"}}
}
